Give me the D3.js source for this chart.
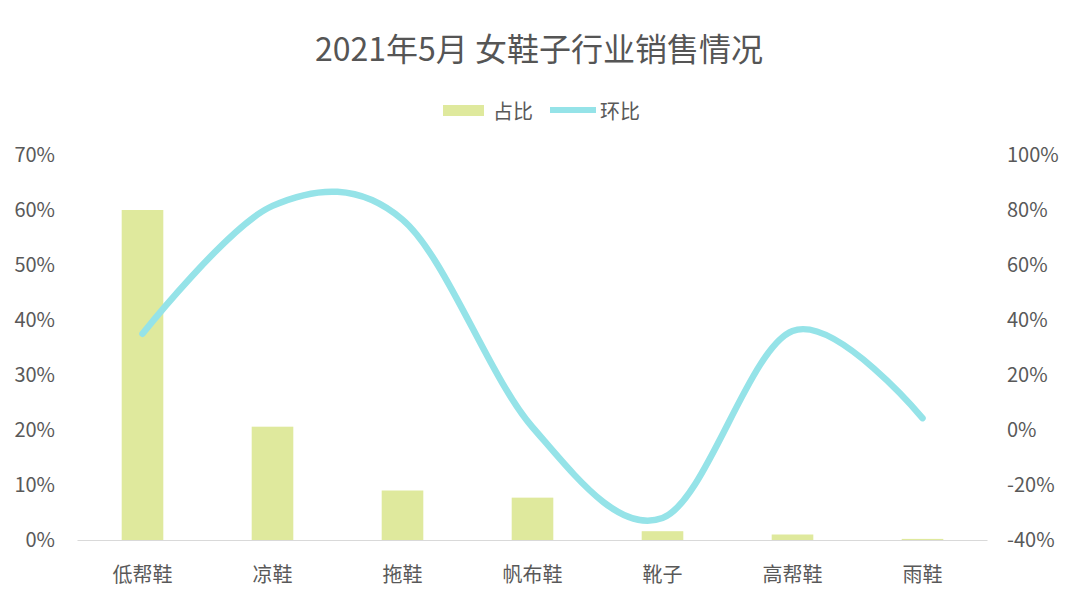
<!DOCTYPE html>
<html>
<head>
<meta charset="utf-8">
<script src="https://cdn.jsdelivr.net/npm/d3@7"></script>
<style>
  html, body { margin: 0; padding: 0; background: #ffffff; }
  svg { display: block; }
  text { font-family: "Noto Sans CJK SC", "Noto Sans", sans-serif; fill: #595959; }
</style>
</head>
<body>
<svg id="chart" width="1080" height="607"></svg>
<script>
// ---- data ----
const categories = ["低帮鞋", "凉鞋", "拖鞋", "帆布鞋", "靴子", "高帮鞋", "雨鞋"];
const shareValues = [0.600, 0.206, 0.090, 0.077, 0.016, 0.010, 0.002];   // 占比
const momValues   = [0.350, 0.815, 0.765, 0.010, -0.320, 0.360, 0.043];  // 环比
const leftTicks  = [0, 0.1, 0.2, 0.3, 0.4, 0.5, 0.6, 0.7];
const rightTicks = [-0.4, -0.2, 0, 0.2, 0.4, 0.6, 0.8, 1.0];
const titleText = "2021年5月 女鞋子行业销售情况";
const seriesNames = ["占比", "环比"];

// ---- layout ----
const W = 1080, H = 607;
const plot = { left: 77.5, right: 987.5, top: 155, bottom: 540 };
const barColor = "#dfe99d";
const lineColor = "#95e3e8";
const labelSize = "20px";

const svg = d3.select("#chart");

const x = d3.scaleBand()
  .domain(categories)
  .range([plot.left, plot.right])
  .paddingInner(0.68)
  .paddingOuter(0.34);

const yL = d3.scaleLinear().domain([0, 0.7]).range([plot.bottom, plot.top]);
const yR = d3.scaleLinear().domain([-0.4, 1.0]).range([plot.bottom, plot.top]);
const pctBase = d3.format(".0%");
const pct = d => pctBase(d).replace("\u2212", "-");

// title
svg.append("text")
  .attr("x", 539).attr("y", 47)
  .attr("text-anchor", "middle")
  .attr("dominant-baseline", "central")
  .style("font-size", "32px")
  .style("fill", "#555555")
  .text(titleText);

// legend
const lg = svg.append("g");
lg.append("rect").attr("x", 443).attr("y", 105).attr("width", 41).attr("height", 11).attr("fill", barColor);
lg.append("text").attr("x", 493).attr("y", 110).attr("dominant-baseline", "central")
  .style("font-size", labelSize).text(seriesNames[0]);
lg.append("line").attr("x1", 550).attr("x2", 596).attr("y1", 110).attr("y2", 110)
  .attr("stroke", lineColor).attr("stroke-width", 6);
lg.append("text").attr("x", 600).attr("y", 110).attr("dominant-baseline", "central")
  .style("font-size", labelSize).text(seriesNames[1]);

// left axis
const axL = svg.append("g")
  .attr("transform", `translate(${55},0)`)
  .call(d3.axisLeft(yL).tickValues(leftTicks).tickFormat(pct).tickSize(0).tickPadding(0));
axL.select(".domain").remove();
axL.selectAll("text").style("font-size", labelSize).style("font-family", "\"Noto Sans CJK SC\", sans-serif").attr("fill", "#595959");

// right axis
const axR = svg.append("g")
  .attr("transform", `translate(${1007},0)`)
  .call(d3.axisRight(yR).tickValues(rightTicks).tickFormat(pct).tickSize(0).tickPadding(0));
axR.select(".domain").remove();
axR.selectAll("text").style("font-size", labelSize).style("font-family", "\"Noto Sans CJK SC\", sans-serif").attr("fill", "#595959");

// bars
svg.append("g").selectAll("rect")
  .data(categories.map((c, i) => ({ c, v: shareValues[i] })))
  .join("rect")
  .attr("x", d => x(d.c))
  .attr("width", x.bandwidth())
  .attr("y", d => yL(d.v))
  .attr("height", d => yL(0) - yL(d.v))
  .attr("fill", barColor);

// category axis
const axB = svg.append("g")
  .attr("transform", `translate(0,${plot.bottom})`)
  .call(d3.axisBottom(x).tickSize(0).tickPadding(0));
axB.select(".domain")
  .attr("d", `M${plot.left},0.5H${plot.right}`)
  .attr("stroke", "#d9d9d9").attr("stroke-width", 1);
axB.selectAll("text")
  .attr("y", 35).attr("dy", "0.35em")
  .style("font-size", labelSize).style("font-family", "\"Noto Sans CJK SC\", sans-serif").attr("fill", "#595959");

// line
const line = d3.line()
  .x((d, i) => x(categories[i]) + x.bandwidth() / 2)
  .y(d => yR(d))
  .curve(d3.curveCatmullRom.alpha(0));

svg.append("path")
  .datum(momValues)
  .attr("d", line)
  .attr("fill", "none")
  .attr("stroke", lineColor)
  .attr("stroke-width", 6.5)
  .attr("stroke-linecap", "round")
  .attr("stroke-linejoin", "round");
</script>
</body>
</html>
